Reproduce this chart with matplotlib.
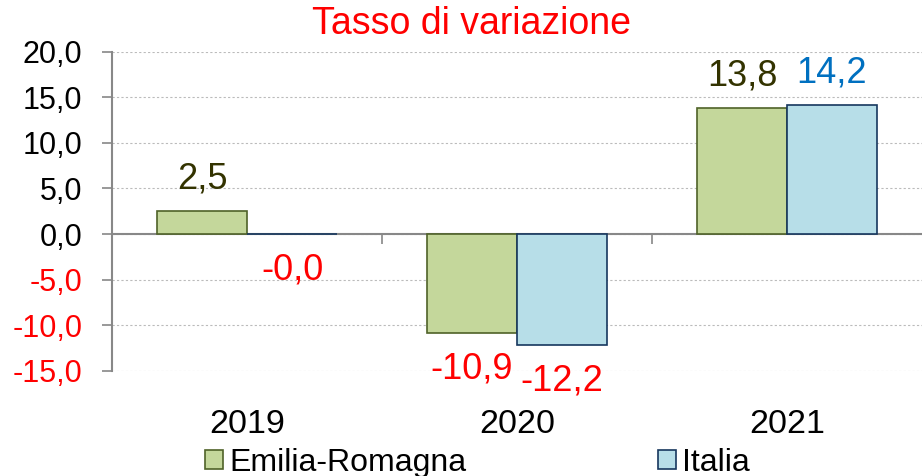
import matplotlib.pyplot as plt
import numpy as np

plt.rcParams['font.family'] = ['Liberation Sans', 'DejaVu Sans']

years = ['2019', '2020', '2021']
emilia = [2.5, -10.9, 13.8]
italia = [-0.04, -12.2, 14.2]
emilia_labels = ['2,5', '-10,9', '13,8']
italia_labels = ['-0,0', '-12,2', '14,2']
yticks = [-15, -10, -5, 0, 5, 10, 15, 20]

fig = plt.figure(figsize=(9.22, 4.76), dpi=100)
ax = fig.add_axes([0.1215, 0.2216, 0.8785, 0.6692])

x = np.arange(len(years))
w = 1 / 3
ax.bar(x - w / 2, emilia, w, color='#C4D79B', edgecolor='#4F6228', linewidth=1.2,
       label='Emilia-Romagna', zorder=3)
ax.bar(x + w / 2, italia, w, color='#B7DEE8', edgecolor='#17375E', linewidth=1.2,
       label='Italia', zorder=3)

# value labels
for i in range(len(years)):
    for xv, v, lab, pos_col in [(x[i] - w / 2, emilia[i], emilia_labels[i], '#333300'),
                                (x[i] + w / 2, italia[i], italia_labels[i], '#0070C0')]:
        col = pos_col if v > 0 else '#FF0000'
        off = 32 if v > 0 else -36
        ax.annotate(lab, (xv, v), xytext=(0, off), textcoords='offset pixels',
                    ha='center', va='center', fontsize=26, color=col)

ax.set_xlim(-0.5, 2.5)
ax.set_ylim(-15, 20)
ax.set_yticks(yticks)
ax.set_yticklabels([f'{t:.1f}'.replace('.', ',') for t in yticks], fontsize=22)
for t, lbl in zip(yticks, ax.get_yticklabels()):
    if t < 0:
        lbl.set_color('#FF0000')
ax.yaxis.grid(True, linestyle=(0, (2, 2)), color='#BBBBBB', linewidth=0.8, zorder=0)

ax.set_xticks(x)
ax.set_xticklabels(years, fontsize=24.5)
ax.tick_params(axis='x', length=0, pad=28)
ax.tick_params(axis='y', length=7.5, color='#888888', width=1.2, pad=14)

for s in ['top', 'right', 'bottom']:
    ax.spines[s].set_visible(False)
ax.spines['left'].set_color('#888888')
ax.spines['left'].set_linewidth(1.5)

ax.axhline(0, color='#888888', linewidth=1.5, zorder=2.5)
ax.vlines([0.5, 1.5], -1.1, 0, color='#888888', linewidth=1.2)

fig.text(0.511, 0.95, 'Tasso di variazione', color='#FF0000', fontsize=27,
         ha='center', va='center')

fig.legend(loc='center', bbox_to_anchor=(0.518, 0.028), ncol=2, frameon=False,
           fontsize=23, handlelength=0.55, handleheight=0.55, handletextpad=0.2,
           columnspacing=6.0, borderpad=0)

fig.savefig('out.png', dpi=100)
